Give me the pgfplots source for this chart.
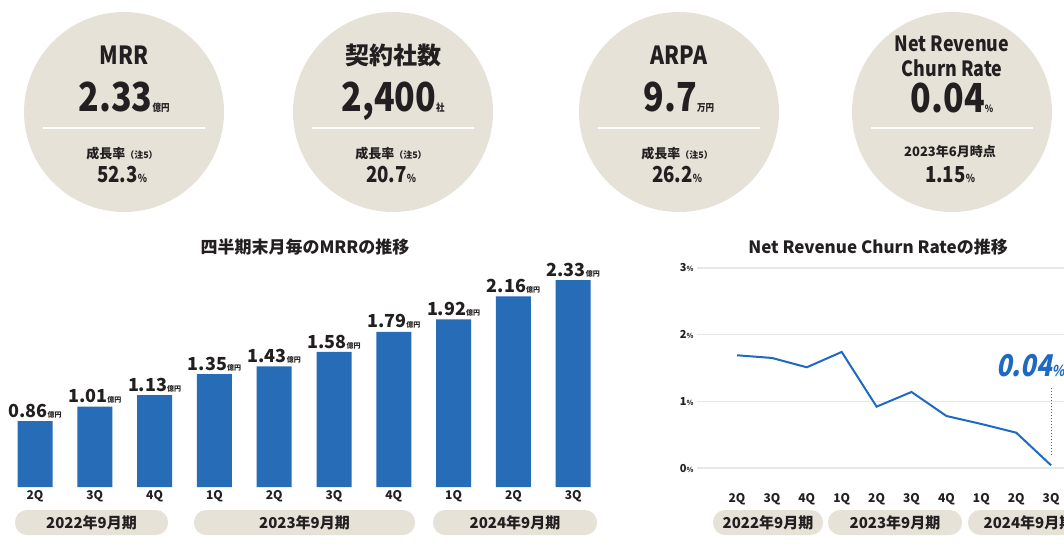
\documentclass[border=0pt]{standalone}
\usepackage{fontspec}
\setmainfont{Noto Sans CJK JP}
\newfontfamily\cond{Noto Sans CJK JP}[FakeStretch=0.85]
\newfontfamily\slantfont{Noto Sans CJK JP}[FakeSlant=0.2, FakeStretch=0.85]
\usepackage{pgfplots}
\pgfplotsset{compat=1.18}
\definecolor{txt}{RGB}{35,31,32}
\definecolor{beige}{RGB}{231,226,216}
\definecolor{barblue}{RGB}{38,108,182}
\definecolor{lineblue}{RGB}{30,105,195}
\definecolor{gridgray}{RGB}{232,232,232}
\newcommand\fs[1]{\fontsize{#1}{#1}\selectfont}

\begin{document}
\begin{tikzpicture}[lbl/.style={inner sep=0pt, text=txt, font=\bfseries}]
\useasboundingbox (0,0) rectangle (1064pt,-544pt);

% KPI circles
\foreach \cx in {124,393,679,952}{
  \fill[beige] (\cx pt,-112pt) circle (100pt);
  \draw[white, line width=1.2pt] (\cx pt-81pt,-128pt) -- (\cx pt+81pt,-128pt);
}
\node[lbl] at (124pt,-55pt) {\cond\fs{25}MRR};
\node[lbl, anchor=base] at (124pt,-111pt) {\cond\fs{40}2.33\fs{10}億円};
\node[lbl] at (122pt,-154pt) {\fs{13}成長率\fs{9}（注5）};
\node[lbl, anchor=base] at (122pt,-182pt) {\cond\fs{22}52.3\fs{11}\%};

\node[lbl] at (393pt,-55pt) {\fs{24}契約社数};
\node[lbl, anchor=base] at (393pt,-111pt) {\cond\fs{40}2,400\fs{10}社};
\node[lbl] at (391pt,-154pt) {\fs{13}成長率\fs{9}（注5）};
\node[lbl, anchor=base] at (391pt,-182pt) {\cond\fs{22}20.7\fs{11}\%};

\node[lbl] at (679pt,-55pt) {\cond\fs{25}ARPA};
\node[lbl, anchor=base] at (679pt,-111pt) {\cond\fs{40}9.7\fs{10}万円};
\node[lbl] at (677pt,-154pt) {\fs{13}成長率\fs{9}（注5）};
\node[lbl, anchor=base] at (677pt,-182pt) {\cond\fs{22}26.2\fs{11}\%};

\node[lbl] at (952pt,-44pt) {\cond\fs{21}Net Revenue};
\node[lbl] at (952pt,-68pt) {\cond\fs{21}Churn Rate};
\node[lbl, anchor=base] at (952pt,-112pt) {\cond\fs{40}0.04\fs{10}\%};
\node[lbl] at (950pt,-152pt) {\fs{13}2023年6月時点};
\node[lbl, anchor=base] at (950pt,-182pt) {\cond\fs{22}1.15\fs{11}\%};

% chart titles
\node[lbl] at (305pt,-247pt) {\fs{17}四半期末月毎のMRRの推移};
\node[lbl] at (878pt,-247pt) {\fs{17}Net Revenue Churn Rateの推移};

% period pills
\foreach \xa/\xb/\t in {15/168/2022年9月期, 194/415/2023年9月期, 433/597/2024年9月期,
                        713/823/2022年9月期, 828/962/2023年9月期, 968/1090/2024年9月期}{
  \fill[beige, rounded corners=12pt] (\xa pt,-510pt) rectangle (\xb pt,-535pt);
  \node[lbl] at ({(\xa+\xb)/2*1pt},-522.5pt) {\fs{15}\t};
}

% MRR bars
\begin{axis}[
  at={(5.1pt,-487pt)}, anchor=south west,
  x=59.8pt, y=95.9pt,
  xmin=-0.5, xmax=9.5, ymin=0.172, ymax=2.6,
  axis line style={draw=none}, major tick length=0pt,
  ytick=\empty,
  xtick={0,...,9},
  xticklabels={2Q,3Q,4Q,1Q,2Q,3Q,4Q,1Q,2Q,3Q},
  xticklabel style={font=\bfseries\fs{12}, text=txt},
  /pgf/number format/assume math mode=true,
]
\addplot[ybar, bar width=35pt, fill=barblue, draw=none,
  nodes near coords={\pgfmathprintnumber[fixed,fixed zerofill,precision=2]{\pgfplotspointmeta}\fs{7}億円},
  nodes near coords style={font=\bfseries\fs{18}, text=txt, anchor=south, inner sep=3pt}]
  coordinates {(0,0.86) (1,1.01) (2,1.13) (3,1.35) (4,1.43)
               (5,1.58) (6,1.79) (7,1.92) (8,2.16) (9,2.33)};
\end{axis}

% churn rate line
\begin{axis}[
  at={(697pt,-468pt)}, anchor=south west,
  x=34.9pt, y=66.7pt,
  xmin=-1.146, xmax=10, ymin=0, ymax=3,
  axis line style={draw=none}, major tick length=0pt,
  ytick={0,1,2,3},
  yticklabels={0{\fs{7}\%},1{\fs{7}\%},2{\fs{7}\%},3{\fs{7}\%}},
  yticklabel style={font=\bfseries\fs{11}, text=txt},
  ymajorgrids, grid style={draw=gridgray, line width=1.2pt},
  xtick={0,...,9},
  xticklabels={2Q,3Q,4Q,1Q,2Q,3Q,4Q,1Q,2Q,3Q},
  xticklabel style={font=\bfseries\fs{12}, text=txt, yshift=-22pt},
  clip=false,
]
\addplot[lineblue, line width=2pt] coordinates {
  (0,1.69) (1,1.65) (2,1.51) (3,1.74) (4,0.92)
  (5,1.14) (6,0.78) (7,0.66) (8,0.53) (9,0.04)};
\draw[dotted, line width=1pt, txt!70] (axis cs:9,0.19) -- (axis cs:9,1.21);
\end{axis}
\node[anchor=base west, inner sep=0pt, text=lineblue] at (996pt,-376pt)
  {\slantfont\bfseries\fs{30}0.04\fs{15}\%};
\end{tikzpicture}
\end{document}
